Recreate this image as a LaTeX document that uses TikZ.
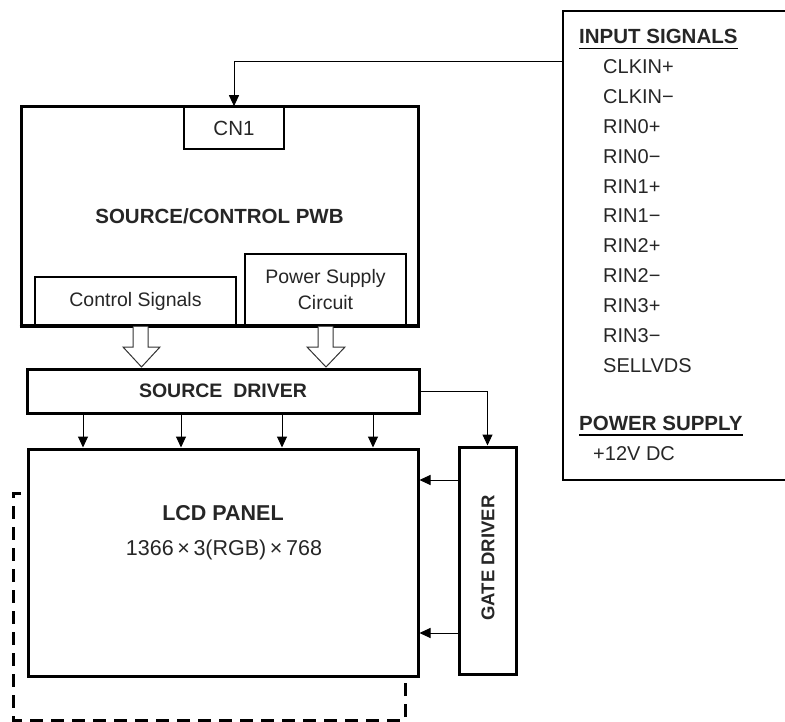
\documentclass[tikz,border=0pt]{standalone}
\usepackage{fontspec}
\setmainfont{Liberation Sans}
\usetikzlibrary{arrows.meta}
\begin{document}
\begin{tikzpicture}[x=1pt,y=-1pt,
  thickbox/.style={draw=black, line width=3pt, inner sep=0pt, fill=white},
  thinbox/.style={draw=black, line width=1.6pt, inner sep=0pt, fill=white, align=center},
  arr/.style={-{Triangle[length=11pt,width=10pt]}, line width=1pt},
  conn/.style={line width=1pt},
  rtxt/.style={font=\fontsize{19.5}{26}\selectfont, text=black!85},
  btxt/.style={font=\fontsize{20.5}{24}\selectfont\bfseries, text=black!85},
  itm/.style={font=\fontsize{20}{24}\selectfont, text=black!85, inner sep=0pt, anchor=base west},
  hollow/.style={draw=black!80, line width=1pt, fill=white},
  dash box/.style={line width=3pt, dash pattern=on 13pt off 8pt}
]
\useasboundingbox (0,0) rectangle (785,722);

% Input signals box (right side extends beyond the picture)
\draw[line width=2pt] (792,11) -- (563,11) -- (563,480) -- (792,480);
\coordinate (inleft) at (563,62);

\node[itm, font=\fontsize{20.5}{24}\selectfont\bfseries] (hin) at (579,44) {INPUT SIGNALS};
\draw[line width=1.6pt] ([yshift=-4.5pt]hin.base west) -- ([yshift=-4.5pt]hin.base east);
\foreach \t [count=\i from 0] in {CLKIN+,CLKIN−,RIN0+,RIN0−,RIN1+,RIN1−,RIN2+,RIN2−,RIN3+,RIN3−,SELLVDS}{
  \node[itm] (in\i) at (603,{74+29.8*\i}) {\t};
}
\node[itm, font=\fontsize{20.5}{24}\selectfont\bfseries] (hps) at (579,430) {POWER SUPPLY};
\draw[line width=1.6pt] ([yshift=-5pt]hps.base west) -- ([yshift=-5pt]hps.base east);
\node[itm] (v12) at (593,460) {+12V DC};

% Source / control PWB
\node[thickbox, minimum width=397pt, minimum height=218pt, btxt] (pwb) at (219.5,216) {SOURCE/CONTROL PWB};
\node[thinbox, minimum width=100pt, minimum height=42pt, rtxt, font=\fontsize{20.5}{24}\selectfont] (cn1) at (234,128) {CN1};
\node[thinbox, minimum width=201pt, minimum height=48pt, rtxt] (ctrl) at (135.5,301) {Control Signals};
\node[thinbox, minimum width=161pt, minimum height=71pt, rtxt] (psc) at (325.5,289.5) {Power Supply\\Circuit};
\draw[line width=3pt] (pwb.south west) -- (pwb.south east);

% Source driver
\node[thickbox, minimum width=392pt, minimum height=44pt, btxt, font=\fontsize{19.5}{24}\selectfont\bfseries] (sd) at (223,391) {SOURCE\ \ DRIVER};

% hollow arrows
\draw[hollow] (133,326.5) -- (133,347) -- (123,347) -- (141.5,367) -- (160,347) -- (148,347) -- (148,326.5);
\draw[hollow] (318,326.5) -- (318,347) -- (307,347) -- (326,367) -- (345,347) -- (333,347) -- (333,326.5);

% LCD panel
\node[thickbox, minimum width=390pt, minimum height=227pt] (lcd) at (223,562.5) {};
\node[btxt, font=\fontsize{21.5}{24}\selectfont\bfseries] (lcdt) at (223,513) {LCD PANEL};
\node[rtxt, font=\fontsize{21.5}{24}\selectfont] (lcdr) at (224,550) {1366\,×\,3(RGB)\,×\,768};

% Gate driver
\node[thickbox, minimum width=57pt, minimum height=227pt] (gd) at (487.5,560.5) {};
\node[btxt, font=\fontsize{18.5}{22}\selectfont\bfseries, rotate=90] (gdt) at (488,558) {GATE DRIVER};

% connectors
\draw[arr] (inleft) -| (cn1.north);
\draw[arr] (sd.east) -| (gd.north);
\foreach \x in {83,181,282,373}{
  \draw[arr] (\x,0 |- sd.south) -- (\x,0 |- lcd.north);
}
\draw[arr] (gd.west |- 0,480) -- (lcd.east |- 0,480);
\draw[arr] (gd.west |- 0,633) -- (lcd.east |- 0,633);

% dashed outline
\coordinate (dtop) at (21,493);
\draw[dash box] (dtop) -- (13,493) -- (13,720) -- (405,720) -- (405,0 |- lcd.south);
\end{tikzpicture}
\end{document}
